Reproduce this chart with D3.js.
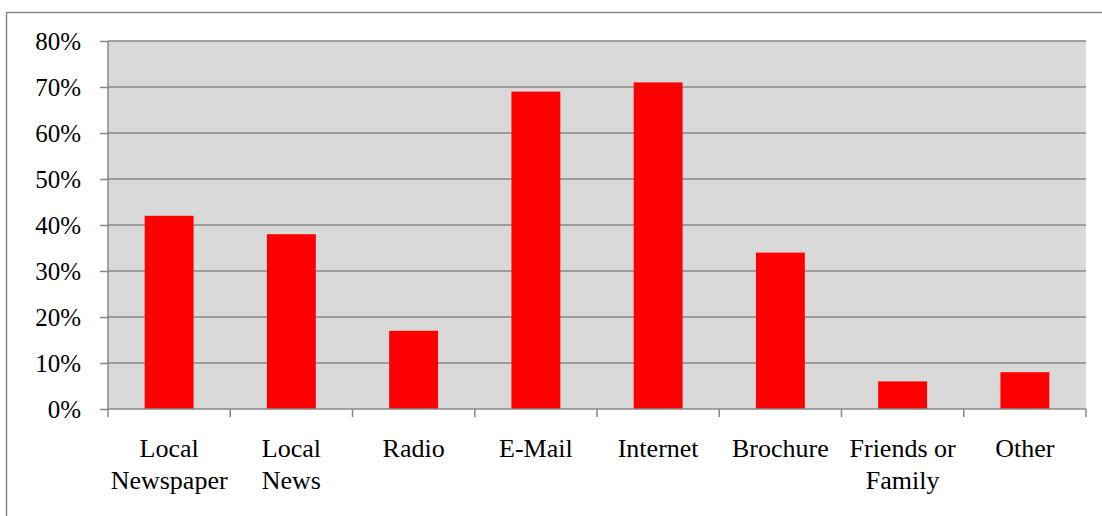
<!DOCTYPE html>
<html>
<head>
<meta charset="utf-8">
<script src="https://cdn.jsdelivr.net/npm/d3@7"></script>
<style>
  body { margin: 0; background: #fff; }
  #chart { width: 1102px; height: 516px; }
</style>
</head>
<body>
<div id="chart"></div>
<script>
const categories = [
  ["Local", "Newspaper"],
  ["Local", "News"],
  ["Radio"],
  ["E-Mail"],
  ["Internet"],
  ["Brochure"],
  ["Friends or", "Family"],
  ["Other"],
];
const values = [0.42, 0.38, 0.17, 0.69, 0.71, 0.34, 0.06, 0.08];
const yTicks = [0, 0.1, 0.2, 0.3, 0.4, 0.5, 0.6, 0.7, 0.8];

const width = 1102;
const height = 516;
const margin = { top: 41, right: 16, bottom: 107, left: 108 };
const gridColor = "#878787";
const fontFamily = "'Liberation Serif', 'Times New Roman', serif";

const svg = d3
  .select("#chart")
  .append("svg")
  .attr("width", width)
  .attr("height", height)
  .style("font-family", fontFamily);

// chart frame
svg
  .append("rect")
  .attr("x", 6.5)
  .attr("y", 12.5)
  .attr("width", width + 10)
  .attr("height", height + 10)
  .attr("fill", "none")
  .attr("stroke", "#888")
  .attr("stroke-width", 1.5);

const x = d3
  .scaleBand()
  .domain(d3.range(categories.length))
  .range([margin.left, width - margin.right])
  .paddingInner(0.6)
  .paddingOuter(0.3);

const y = d3
  .scaleLinear()
  .domain([0, 0.8])
  .range([height - margin.bottom, margin.top]);

// plot background
svg
  .append("rect")
  .attr("x", margin.left)
  .attr("y", y(0.8))
  .attr("width", width - margin.right - margin.left)
  .attr("height", y(0) - y(0.8))
  .attr("fill", "#D9D9D9");

// gridlines
svg
  .append("g")
  .selectAll("line")
  .data(yTicks.slice(1))
  .enter()
  .append("line")
  .attr("x1", margin.left)
  .attr("x2", width - margin.right)
  .attr("y1", (d) => y(d))
  .attr("y2", (d) => y(d))
  .attr("stroke", gridColor)
  .attr("stroke-width", 1.5);

// bars
svg
  .append("g")
  .selectAll("rect")
  .data(values)
  .enter()
  .append("rect")
  .attr("x", (d, i) => x(i))
  .attr("y", (d) => y(d))
  .attr("width", x.bandwidth())
  .attr("height", (d) => y(0) - y(d))
  .attr("fill", "#FF0000");

// y axis
const yAxis = svg
  .append("g")
  .attr("transform", `translate(${margin.left},0)`)
  .call(
    d3
      .axisLeft(y)
      .tickValues(yTicks)
      .tickFormat(d3.format(".0%"))
      .tickSize(8)
      .tickPadding(19)
  );
yAxis.attr("font-family", null).attr("font-size", null);
yAxis.select(".domain").attr("stroke", gridColor).attr("stroke-width", 1.5).attr("d", `M0,${y(0.8)}V${y(0)}`);
yAxis.selectAll(".tick line").attr("stroke", gridColor).attr("stroke-width", 1.5);
yAxis
  .selectAll("text")
  .style("font-family", fontFamily)
  .style("font-size", "25px")
  .attr("fill", "#000");

// x axis with boundary ticks
const boundaries = d3.range(categories.length + 1).map((i) => margin.left + i * ((width - margin.right - margin.left) / categories.length));
svg
  .append("line")
  .attr("x1", margin.left)
  .attr("x2", width - margin.right)
  .attr("y1", y(0))
  .attr("y2", y(0))
  .attr("stroke", gridColor)
  .attr("stroke-width", 1.5);
svg
  .append("g")
  .selectAll("line")
  .data(boundaries)
  .enter()
  .append("line")
  .attr("x1", (d) => d)
  .attr("x2", (d) => d)
  .attr("y1", y(0))
  .attr("y2", y(0) + 8)
  .attr("stroke", gridColor)
  .attr("stroke-width", 1.5);

// category labels
const labels = svg
  .append("g")
  .selectAll("text")
  .data(categories)
  .enter()
  .append("text")
  .attr("text-anchor", "middle")
  .attr("x", (d, i) => x(i) + x.bandwidth() / 2)
  .attr("y", y(0) + 48)
  .style("font-family", fontFamily)
  .style("font-size", "26px")
  .attr("fill", "#000");
labels
  .selectAll("tspan")
  .data((d) => d)
  .enter()
  .append("tspan")
  .attr("x", function () {
    return d3.select(this.parentNode).attr("x");
  })
  .attr("dy", (d, i) => (i === 0 ? 0 : 31.5))
  .text((d) => d);
</script>
</body>
</html>
